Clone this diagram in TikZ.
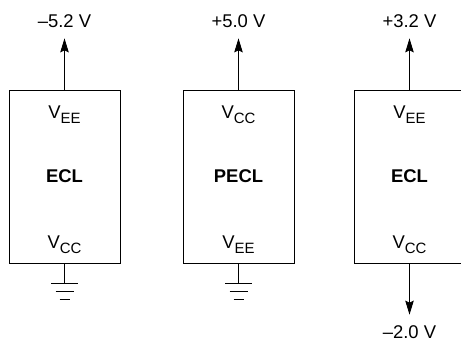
\documentclass[tikz,border=0pt]{standalone}
\usepackage{fontspec}
\setmainfont{Liberation Sans}
\usetikzlibrary{arrows.meta,positioning}

\newcommand{\pin}[1]{V\raisebox{-5bp}{\fontsize{15}{17}\selectfont #1}}

\begin{document}
\begin{tikzpicture}[x=1bp, y=-1bp, line width=0.9bp,
    every node/.style={font=\fontsize{18.5}{22}\selectfont},
    chip/.style={draw, minimum width=111bp, minimum height=173bp, inner sep=0pt, font=\fontsize{18.5}{22}\selectfont\bfseries},
    volt/.style={inner xsep=2bp, inner ysep=10.5bp},
    feed/.style={-{Stealth[length=14bp, width=8.5bp, inset=2bp]}}]
    \useasboundingbox (0,0) rectangle (461,343);

    % the three parts
    \node[chip] (ecl1) at (64.5,176.5) {ECL};
    \node[chip] (pecl) at (238.5,176.5) {PECL};
    \node[chip] (ecl2) at (409.5,176.5) {ECL};

    % pin names
    \node[anchor=base] (ee1) at (64.5,118) {\pin{EE}};
    \node[anchor=base] (cc1) at (64.5,248) {\pin{CC}};
    \node[anchor=base] (cc2) at (238.5,118) {\pin{CC}};
    \node[anchor=base] (ee2) at (238.5,248) {\pin{EE}};
    \node[anchor=base] (ee3) at (409.5,118) {\pin{EE}};
    \node[anchor=base] (cc3) at (409.5,248) {\pin{CC}};

    % supplies
    \node[volt] (neg52) at (64.5,20.9) {–5.2 V};
    \node[volt] (pos50) at (238.5,20.9) {+5.0 V};
    \node[volt] (pos32) at (409.5,20.9) {+3.2 V};
    \node[volt] (neg20) at (409.5,332.1) {–2.0 V};

    \draw[feed] (ecl1.north) -- (neg52);
    \draw[feed] (pecl.north) -- (pos50);
    \draw[feed] (ecl2.north) -- (pos32);
    \draw[feed] (ecl2.south) -- (neg20);

    % grounds
    \coordinate (gnd1) at (64.5,283);
    \coordinate (gnd2) at (238.5,283);
    \draw (ecl1.south) -- (gnd1);
    \draw (pecl.south) -- (gnd2);
    \foreach \g in {gnd1,gnd2}
        \foreach \w/\d in {13.5/0, 9/8, 5/16}
            \draw ([shift={(-\w,\d)}]\g) -- ++(2*\w,0);
\end{tikzpicture}
\end{document}
